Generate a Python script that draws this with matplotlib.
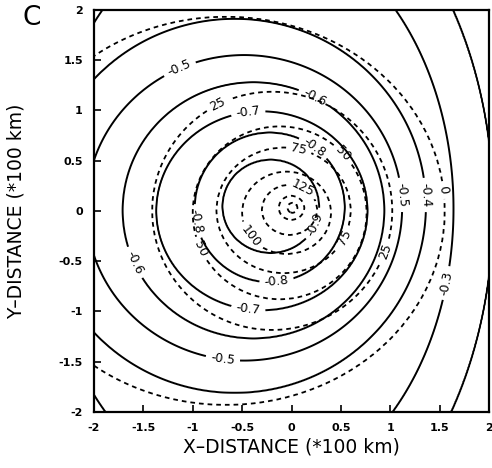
import numpy as np
import matplotlib
matplotlib.use('Agg')
import matplotlib.pyplot as plt
matplotlib.rcParams['font.family'] = 'DejaVu Sans'

solid_levels = [-0.9, -0.8, -0.7, -0.6, -0.5, -0.4, -0.3, -0.2]
solid_cx = [-0.21, -0.22, -0.30, -0.385, -0.48, -0.576, -0.43, -0.43]
solid_cy = [0.045, 0.035, 0.00, 0.005, 0.03, 0.05, 0.02, 0.02]
solid_rx = [0.49, 0.76, 1.07, 1.325, 1.60, 1.937, 2.07, 2.47]
solid_ry = [0.465, 0.745, 0.99, 1.275, 1.52, 1.86, 2.84, 3.6]

# dashed contours (inner -> outer)
dash_levels = [175, 150, 125, 100, 75, 50, 25, 0]
dash_cx = [0.01, 0.0, -0.02, -0.05, -0.08, -0.12, -0.195, -0.665]
dash_cy = [0.03, 0.03, 0.01, -0.02, 0.005, -0.02, 0.0, 0.0]
dash_rx = [0.05, 0.13, 0.28, 0.45, 0.68, 0.88, 1.215, 2.215]
dash_ry = [0.05, 0.12, 0.25, 0.41, 0.625, 0.86, 1.185, 1.93]

ticks = [-2, -1.5, -1, -0.5, 0, 0.5, 1, 1.5, 2]
tick_labels = ['-2', '-1.5', '-1', '-0.5', '0', '0.5', '1', '1.5', '2']

# where the scan puts its inline labels
solid_label_pos = {-0.9: [(0.18, -0.11)],
                   -0.8: [(0.2, 0.6), (-0.15, -0.71), (-1.0, -0.11)],
                   -0.7: [(-0.44, 0.99), (-0.44, -0.99)],
                   -0.6: [(0.28, 1.22), (-1.6, -0.52)],
                   -0.5: [(-1.13, 1.41), (1.12, 0.16), (-0.7, -1.51)],
                   -0.4: [(1.39, 0.16)],
                   -0.3: [(1.49, -0.69)]}
dash_label_pos = {125: [(0.13, 0.26)],
                  100: [(-0.42, -0.26)],
                  75: [(0.08, 0.63), (0.52, -0.26)],
                  50: [(0.55, 0.59), (-0.9, -0.37)],
                  25: [(-0.75, 1.07), (0.92, -0.39)],
                  0: [(1.57, 0.21)]}


def ring_field(X, Y, levels, cx, cy, rx, ry):
    # build a field whose level lines are the given nested ellipses
    q = np.array([np.hypot((X - a) / b, (Y - c) / d)
                  for a, c, b, d in zip(cx, cy, rx, ry)])
    g = q - 1
    n = len(levels)
    L = np.array(levels, dtype=float)
    out = (g > 0).sum(axis=0)
    k = np.clip(out, 1, n - 1)
    g0 = np.take_along_axis(g, (k - 1)[None], 0)[0]
    g1 = np.take_along_axis(g, k[None], 0)[0]
    with np.errstate(divide='ignore', invalid='ignore'):
        t = np.nan_to_num(g0 / (g0 - g1))
    val = L[k - 1] + t * (L[k] - L[k - 1])
    inner = L[0] + (L[0] - L[1]) * (1 - q[0])
    outer = L[-1] + (L[-1] - L[-2]) * (q[-1] - 1)
    val = np.where(out == 0, inner, val)
    val = np.where(out == n, outer, val)
    return val


def on_ring(levels, cx, cy, rx, ry, positions):
    # snap each wanted label spot onto its own ellipse
    pts = []
    for lev, spots in positions.items():
        i = levels.index(lev)
        for px, py in spots:
            th = np.arctan2((py - cy[i]) / ry[i], (px - cx[i]) / rx[i])
            pts.append((cx[i] + rx[i] * np.cos(th),
                        cy[i] + ry[i] * np.sin(th)))
    return pts


x = np.linspace(-2, 2, 401)
y = np.linspace(-2, 2, 401)
X, Y = np.meshgrid(x, y)
S = ring_field(X, Y, solid_levels, solid_cx, solid_cy, solid_rx, solid_ry)
D = ring_field(X, Y, dash_levels, dash_cx, dash_cy, dash_rx, dash_ry)

fig = plt.figure(figsize=(4.92, 4.68), dpi=100)
ax = fig.add_axes([0.191, 0.12, 0.803, 0.859])

cs = ax.contour(X, Y, S, levels=sorted(solid_levels), colors='black',
                linewidths=1.4, linestyles='solid')
cd = ax.contour(X, Y, D, levels=sorted(dash_levels), colors='black',
                linewidths=1.3, linestyles=[(0, (2.6, 2.2))])

ax.clabel(cs, manual=on_ring(solid_levels, solid_cx, solid_cy, solid_rx,
                             solid_ry, solid_label_pos),
          inline=True, fmt='%.1f', fontsize=9)
ax.clabel(cd, manual=on_ring(dash_levels, dash_cx, dash_cy, dash_rx,
                             dash_ry, dash_label_pos),
          inline=True, fmt='%d', fontsize=9)

ax.set_xlim(-2, 2)
ax.set_ylim(-2, 2)
ax.set_xticks(ticks)
ax.set_yticks(ticks)
ax.set_xticklabels(tick_labels, fontweight='bold', fontsize=8)
ax.set_yticklabels(tick_labels, fontweight='bold', fontsize=8)
ax.tick_params(direction='in', length=5, width=1.2, pad=8)
for sp in ax.spines.values():
    sp.set_linewidth(1.6)

ax.set_xlabel('X\u2013DISTANCE (*100 km)', fontsize=13.5, labelpad=3)
ax.set_ylabel('Y\u2013DISTANCE (*100 km)', fontsize=13.5, labelpad=24)
fig.text(0.065, 0.962, 'C', fontsize=19, ha='center', va='center')

fig.savefig('out.png', dpi=100)
